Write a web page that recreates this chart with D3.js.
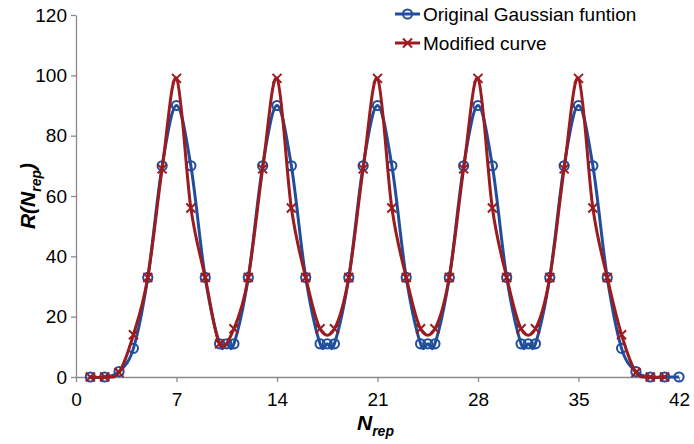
<!DOCTYPE html>
<html><head><meta charset="utf-8">
<script src="https://cdn.jsdelivr.net/npm/d3@7"></script>
<style>body{margin:0;background:#fff}svg{display:block}text{font-family:"Liberation Sans",Arial,sans-serif}</style>
</head><body><svg id="c" width="694" height="444"></svg>
<script>
const blueX = [1,2,3,4,5,6,7,8,9,10,10.5,11,12,13,14,15,16,17,17.5,18,19,20,21,22,23,24,24.5,25,26,27,28,29,30,31,31.5,32,33,34,35,36,37,38,39,40,41,42];
const blueY = [0,0,1.8,9.5,33,70,90,70,33,11,11,11,33,70,90,70,33,11,11,11,33,70,90,70,33,11,11,11,33,70,90,70,33,11,11,11,33,70,90,70,33,9.5,1.8,0,0,0];
const redX = [1,2,3,4,5,6,7,8,9,10,11,12,13,14,15,16,17,18,19,20,21,22,23,24,25,26,27,28,29,30,31,32,33,34,35,36,37,38,39,40,41];
const redY = [0,0,1.5,14,33,69,99,56,33,11,16,33,69,99,56,33,16,16,33,69,99,56,33,16,16,33,69,99,56,33,16,16,33,69,99,56,33,14,1.5,0,0];
const xTicks = [0,7,14,21,28,35,42];
const yTicks = [0,20,40,60,80,100,120];
const seriesNames = ["Original Gaussian funtion","Modified curve"];

const BLUE = "#1f4e9c", RED = "#9b1b1f", AX = "#8a8a8a";
const svg = d3.select("#c");
const x = d3.scaleLinear().domain([0,42]).range([76,679]);
const y = d3.scaleLinear().domain([0,120]).range([377,15]);

const xa = svg.append("g").attr("transform","translate(0,377)")
  .call(d3.axisBottom(x).tickValues(xTicks).tickSize(5).tickPadding(11).tickSizeOuter(0));
const ya = svg.append("g").attr("transform","translate(76,0)")
  .call(d3.axisLeft(y).tickValues(yTicks).tickSize(5).tickPadding(4).tickSizeOuter(0));
[xa,ya].forEach(g=>{
  g.selectAll("path,line").attr("stroke",AX).attr("stroke-width",1.3);
  g.selectAll("text").attr("fill","#000").style("font-size","19px").style("font-family","'Liberation Sans',Arial,sans-serif");
});

const line = d3.line().curve(d3.curveCardinal.tension(0));
const bluePts = blueX.map((v,i)=>[x(v),y(blueY[i])]);
const redPts = redX.map((v,i)=>[x(v),y(redY[i])]);

svg.append("path").attr("d",line(bluePts)).attr("fill","none").attr("stroke",BLUE).attr("stroke-width",3);
svg.append("g").selectAll("circle").data(bluePts).join("circle")
  .attr("cx",d=>d[0]).attr("cy",d=>d[1]).attr("r",4.6)
  .attr("fill","none").attr("stroke",BLUE).attr("stroke-width",2);

svg.append("path").attr("d",line(redPts)).attr("fill","none").attr("stroke",RED).attr("stroke-width",3);
const cross = (g,cx,cy,s)=>g.append("path")
  .attr("d",`M${cx-s},${cy-s}L${cx+s},${cy+s}M${cx-s},${cy+s}L${cx+s},${cy-s}`)
  .attr("stroke",RED).attr("stroke-width",2).attr("fill","none");
const rg = svg.append("g");
redPts.forEach(p=>cross(rg,p[0],p[1],4.5));

// legend
const lg = svg.append("g");
lg.append("line").attr("x1",395).attr("x2",420).attr("y1",14).attr("y2",14).attr("stroke",BLUE).attr("stroke-width",3);
lg.append("circle").attr("cx",407.5).attr("cy",14).attr("r",4.6).attr("fill","none").attr("stroke",BLUE).attr("stroke-width",2);
lg.append("text").attr("x",423).attr("y",21).style("font-size","19px").text(seriesNames[0]);
lg.append("line").attr("x1",395).attr("x2",420).attr("y1",43).attr("y2",43).attr("stroke",RED).attr("stroke-width",3);
cross(lg,407.5,43,4.5);
lg.append("text").attr("x",423).attr("y",50).style("font-size","19px").text(seriesNames[1]);

// axis titles
const xt = svg.append("text").attr("x",357).attr("y",430)
  .style("font-weight","bold").style("font-style","italic").style("font-size","21px");
xt.append("tspan").text("N");
xt.append("tspan").attr("dy",6).style("font-size","14px").text("rep");

const yt = svg.append("text").attr("transform","translate(35,196) rotate(-90)")
  .attr("text-anchor","middle")
  .style("font-weight","bold").style("font-style","italic").style("font-size","21px");
yt.append("tspan").text("R(N");
yt.append("tspan").attr("dy",6).style("font-size","14px").text("rep");
yt.append("tspan").attr("dy",-6).text(")");
</script></body></html>
